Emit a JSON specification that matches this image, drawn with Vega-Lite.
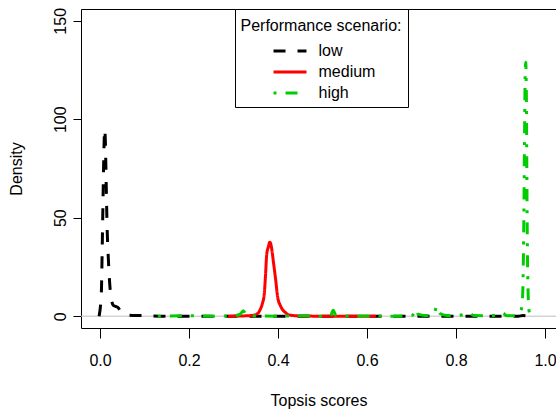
{
  "$schema": "https://vega.github.io/schema/vega-lite/v6.json",
  "autosize": {"type": "none"},
  "width": 475,
  "height": 319,
  "padding": {"left": 81, "top": 9, "right": 0, "bottom": 81},
  "background": "white",
  "config": {
    "font": "Liberation Sans",
    "view": {"stroke": "black", "strokeWidth": 1},
    "axis": {"grid": false, "domain": false, "tickColor": "black", "labelColor": "black", "titleColor": "black", "labelFontSize": 16, "titleFontSize": 16, "titleFontWeight": "normal", "labelFont": "Liberation Sans", "titleFont": "Liberation Sans"}
  },
  "datasets": {
    "curves": [
      {"x": -0.002, "density": 0, "scenario": "low"},
      {"x": 0.003, "density": 12, "scenario": "low"},
      {"x": 0.005, "density": 35, "scenario": "low"},
      {"x": 0.007, "density": 62, "scenario": "low"},
      {"x": 0.009, "density": 86, "scenario": "low"},
      {"x": 0.0105, "density": 95, "scenario": "low"},
      {"x": 0.012, "density": 89, "scenario": "low"},
      {"x": 0.014, "density": 66, "scenario": "low"},
      {"x": 0.016, "density": 45, "scenario": "low"},
      {"x": 0.019, "density": 28, "scenario": "low"},
      {"x": 0.022, "density": 16, "scenario": "low"},
      {"x": 0.026, "density": 8, "scenario": "low"},
      {"x": 0.03, "density": 5.5, "scenario": "low"},
      {"x": 0.035, "density": 5, "scenario": "low"},
      {"x": 0.04, "density": 4.5, "scenario": "low"},
      {"x": 0.045, "density": 3, "scenario": "low"},
      {"x": 0.05, "density": 1.5, "scenario": "low"},
      {"x": 0.06, "density": 0.6, "scenario": "low"},
      {"x": 0.08, "density": 0.3, "scenario": "low"},
      {"x": 0.1, "density": 0.4, "scenario": "low"},
      {"x": 0.12, "density": 0.1, "scenario": "low"},
      {"x": 0.15, "density": 0, "scenario": "low"},
      {"x": 0.3, "density": 0, "scenario": "low"},
      {"x": 0.5, "density": 0, "scenario": "low"},
      {"x": 0.7, "density": 0, "scenario": "low"},
      {"x": 0.94, "density": 0, "scenario": "low"},
      {"x": 0.95, "density": 0.3, "scenario": "low"},
      {"x": 0.96, "density": 0.1, "scenario": "low"},
      {"x": 0.97, "density": 0, "scenario": "low"},
      {"x": 0.288, "density": 0, "scenario": "medium"},
      {"x": 0.33, "density": 0.2, "scenario": "medium"},
      {"x": 0.345, "density": 0.5, "scenario": "medium"},
      {"x": 0.355, "density": 1.5, "scenario": "medium"},
      {"x": 0.36, "density": 3.4, "scenario": "medium"},
      {"x": 0.365, "density": 6.5, "scenario": "medium"},
      {"x": 0.369, "density": 11, "scenario": "medium"},
      {"x": 0.372, "density": 21, "scenario": "medium"},
      {"x": 0.3745, "density": 31, "scenario": "medium"},
      {"x": 0.378, "density": 35, "scenario": "medium"},
      {"x": 0.382, "density": 37.6, "scenario": "medium"},
      {"x": 0.386, "density": 34, "scenario": "medium"},
      {"x": 0.39, "density": 27, "scenario": "medium"},
      {"x": 0.395, "density": 18, "scenario": "medium"},
      {"x": 0.399, "density": 10, "scenario": "medium"},
      {"x": 0.405, "density": 5.5, "scenario": "medium"},
      {"x": 0.41, "density": 3.4, "scenario": "medium"},
      {"x": 0.417, "density": 1.8, "scenario": "medium"},
      {"x": 0.423, "density": 0.8, "scenario": "medium"},
      {"x": 0.44, "density": 0.2, "scenario": "medium"},
      {"x": 0.47, "density": 0.05, "scenario": "medium"},
      {"x": 0.5, "density": 0, "scenario": "medium"},
      {"x": 0.62, "density": 0, "scenario": "medium"},
      {"x": 0.13, "density": 0, "scenario": "high"},
      {"x": 0.2, "density": 0.2, "scenario": "high"},
      {"x": 0.25, "density": 0, "scenario": "high"},
      {"x": 0.3, "density": 0.2, "scenario": "high"},
      {"x": 0.315, "density": 1, "scenario": "high"},
      {"x": 0.322, "density": 2.8, "scenario": "high"},
      {"x": 0.328, "density": 1, "scenario": "high"},
      {"x": 0.34, "density": 0.2, "scenario": "high"},
      {"x": 0.4, "density": 0, "scenario": "high"},
      {"x": 0.45, "density": 0.2, "scenario": "high"},
      {"x": 0.5, "density": 0, "scenario": "high"},
      {"x": 0.518, "density": 0.3, "scenario": "high"},
      {"x": 0.524, "density": 3, "scenario": "high"},
      {"x": 0.53, "density": 0.5, "scenario": "high"},
      {"x": 0.55, "density": 0, "scenario": "high"},
      {"x": 0.6, "density": 0.1, "scenario": "high"},
      {"x": 0.67, "density": 0, "scenario": "high"},
      {"x": 0.7, "density": 0.3, "scenario": "high"},
      {"x": 0.706, "density": 1.5, "scenario": "high"},
      {"x": 0.71, "density": 3.5, "scenario": "high"},
      {"x": 0.715, "density": 1, "scenario": "high"},
      {"x": 0.73, "density": 0.3, "scenario": "high"},
      {"x": 0.75, "density": 1, "scenario": "high"},
      {"x": 0.757, "density": 5, "scenario": "high"},
      {"x": 0.763, "density": 1.5, "scenario": "high"},
      {"x": 0.78, "density": 0.3, "scenario": "high"},
      {"x": 0.8, "density": 0.2, "scenario": "high"},
      {"x": 0.82, "density": 1, "scenario": "high"},
      {"x": 0.83, "density": 1.5, "scenario": "high"},
      {"x": 0.84, "density": 0.3, "scenario": "high"},
      {"x": 0.87, "density": 0.2, "scenario": "high"},
      {"x": 0.9, "density": 1, "scenario": "high"},
      {"x": 0.906, "density": 1.5, "scenario": "high"},
      {"x": 0.912, "density": 0.4, "scenario": "high"},
      {"x": 0.93, "density": 0.2, "scenario": "high"},
      {"x": 0.94, "density": 0.8, "scenario": "high"},
      {"x": 0.945, "density": 2.5, "scenario": "high"},
      {"x": 0.948, "density": 5, "scenario": "high"},
      {"x": 0.95, "density": 12, "scenario": "high"},
      {"x": 0.952, "density": 40, "scenario": "high"},
      {"x": 0.954, "density": 90, "scenario": "high"},
      {"x": 0.9555, "density": 124, "scenario": "high"},
      {"x": 0.9566, "density": 129, "scenario": "high"},
      {"x": 0.958, "density": 115, "scenario": "high"},
      {"x": 0.959, "density": 80, "scenario": "high"},
      {"x": 0.96, "density": 45, "scenario": "high"},
      {"x": 0.962, "density": 12, "scenario": "high"},
      {"x": 0.964, "density": 3, "scenario": "high"},
      {"x": 0.967, "density": 0.8, "scenario": "high"},
      {"x": 0.972, "density": 0.2, "scenario": "high"},
      {"x": 0.975, "density": 0, "scenario": "high"}
    ]
  },
  "layer": [
    {
      "data": {"values": [{"y": 0}]},
      "mark": {"type": "rule", "color": "#BEBEBE", "strokeWidth": 1},
      "encoding": {"y": {"field": "y", "type": "quantitative", "scale": {"domain": [-6, 156], "nice": false, "zero": false}}}
    },
    {
      "data": {"name": "curves"},
      "mark": {"type": "line", "strokeWidth": 3, "strokeCap": "butt", "interpolate": "monotone"},
      "encoding": {
        "x": {"field": "x", "type": "quantitative", "scale": {"domain": [-0.0427, 1.0247], "nice": false, "zero": false},
              "axis": {"values": [0, 0.2, 0.4, 0.6, 0.8, 1.0], "format": ".1f", "tickSize": 10, "labelPadding": 14, "title": "Topsis scores", "titlePadding": 24}},
        "y": {"field": "density", "type": "quantitative", "scale": {"domain": [-6, 156], "nice": false, "zero": false},
              "axis": {"values": [0, 50, 100, 150], "tickSize": 8, "labelAngle": -90, "labelAlign": "center", "labelBaseline": "bottom", "labelPadding": 5, "title": "Density", "titlePadding": 28}},
        "color": {"field": "scenario", "type": "nominal",
                  "scale": {"domain": ["low", "medium", "high"], "range": ["#000000", "#FF0000", "#00CD00"]},
                  "legend": {"title": "Performance scenario:", "orient": "none", "legendX": 154, "legendY": 0,
                             "strokeColor": "black", "fillColor": "white", "padding": 6,
                             "titleFontSize": 16, "titleFontWeight": "normal", "titleColor": "black", "titleAnchor": "middle", "titlePadding": 10,
                             "titleBaseline": "line-top", "titleLineHeight": 22,
                             "labelFontSize": 16, "labelColor": "black", "labelOffset": 18.5,
                             "symbolType": "M-2,0H2", "symbolSize": 272, "symbolStrokeWidth": 3, "symbolOffset": 14, "rowPadding": 3}},
        "strokeDash": {"field": "scenario", "type": "nominal",
                       "scale": {"domain": ["low", "medium", "high"], "range": [[12, 12], [1, 0], [3, 9, 12, 9]]},
                       "legend": {"title": "Performance scenario:"}}
      }
    }
  ]
}
